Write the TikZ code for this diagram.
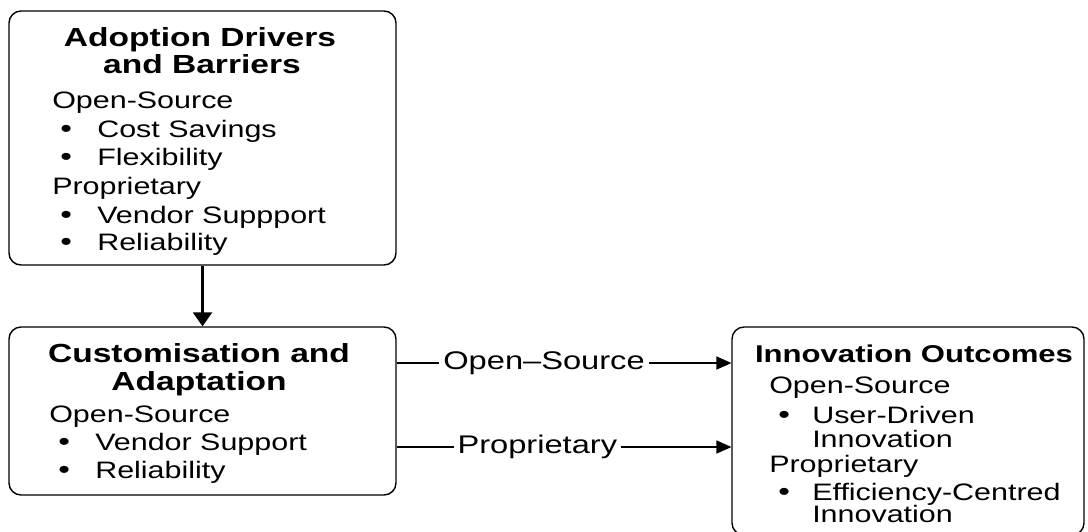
\documentclass[tikz,border=0pt]{standalone}
\usepackage{fontspec}
\setmainfont{Liberation Sans}
\usetikzlibrary{arrows.meta}
\begin{document}
\begin{tikzpicture}[x=0.78125pt, y=-1pt, xscale=1.28,
  box/.style={draw, line width=1.4pt, rounded corners=12pt, inner sep=0pt},
  txt/.style={transform shape, inner sep=0pt, anchor=base west, font=\fontsize{23.8}{28}\selectfont},
  bul/.style={transform shape, inner sep=0pt, anchor=base west, font=\fontsize{26}{28}\selectfont},
  ttl/.style={transform shape, inner sep=0pt, anchor=base, font=\bfseries\fontsize{26.2}{28}\selectfont},
  lbl/.style={transform shape, fill=white, inner xsep=3pt, inner ysep=2pt, font=\fontsize{25.5}{28}\selectfont},
  arrv/.style={line width=2.6pt, -{Triangle[length=14pt,width=19pt]}},
  arrh/.style={line width=1.5pt, -{Triangle[length=15pt,width=13pt]}}]
\useasboundingbox (0,0) rectangle (1088,531);
% boxes
\node[box, minimum width=387pt, minimum height=254pt] (top) at (202.5,138) {};
\node[box, minimum width=387pt, minimum height=168pt] (mid) at (202.5,411) {};
\node[box, minimum width=352pt, minimum height=208pt] (right) at (908,431) {};
% top box text
\node[ttl] (t1) at (200,46.5) {Adoption Drivers};
\node[ttl] (t2) at (202,73.5) {and Barriers};
\node[txt] (a1) at (52,108) {Open-Source};
\node[bul] (a2b) at (60,137) {•};
\node[txt] (a2) at (97,137) {Cost Savings};
\node[bul] (a3b) at (60,165) {•};
\node[txt] (a3) at (97,165) {Flexibility};
\node[txt] (a4) at (52,194) {Proprietary};
\node[bul] (a5b) at (60,223) {•};
\node[txt] (a5) at (97,223) {Vendor Suppport};
\node[bul] (a6b) at (60,250) {•};
\node[txt] (a6) at (97,250) {Reliability};
% middle box text
\node[ttl] (m1) at (199,362) {Customisation and};
\node[ttl] (m2) at (199,390) {Adaptation};
\node[txt] (b1) at (49,422) {Open-Source};
\node[bul] (b2b) at (58,450) {•};
\node[txt] (b2) at (95,450) {Vendor Support};
\node[bul] (b3b) at (58,478) {•};
\node[txt] (b3) at (95,478) {Reliability};
% right box text
\node[ttl, font=\bfseries\fontsize{24.3}{28}\selectfont] (r1) at (914,362) {Innovation Outcomes};
\node[txt] (c1) at (769,393) {Open-Source};
\node[bul] (c2b) at (778,423) {•};
\node[txt] (c2) at (812,423) {User-Driven};
\node[txt] (c2c) at (812,447) {Innovation};
\node[txt] (c3) at (769,472) {Proprietary};
\node[bul] (c4b) at (778,500) {•};
\node[txt] (c4) at (812,500) {Efficiency-Centred};
\node[txt] (c4c) at (812,522) {Innovation};
% connectors
\draw[arrv] (top.south) -- (mid.north);
\draw[arrh] ([yshift=48pt]mid.east) coordinate (o1) -- node[lbl, pos=0.44] (l1) {Open--Source} (o1 -| right.west);
\draw[arrh] ([yshift=-36pt]mid.east) coordinate (p1) -- node[lbl, pos=0.42] (l2) {Proprietary} (p1 -| right.west);
\end{tikzpicture}
\end{document}
